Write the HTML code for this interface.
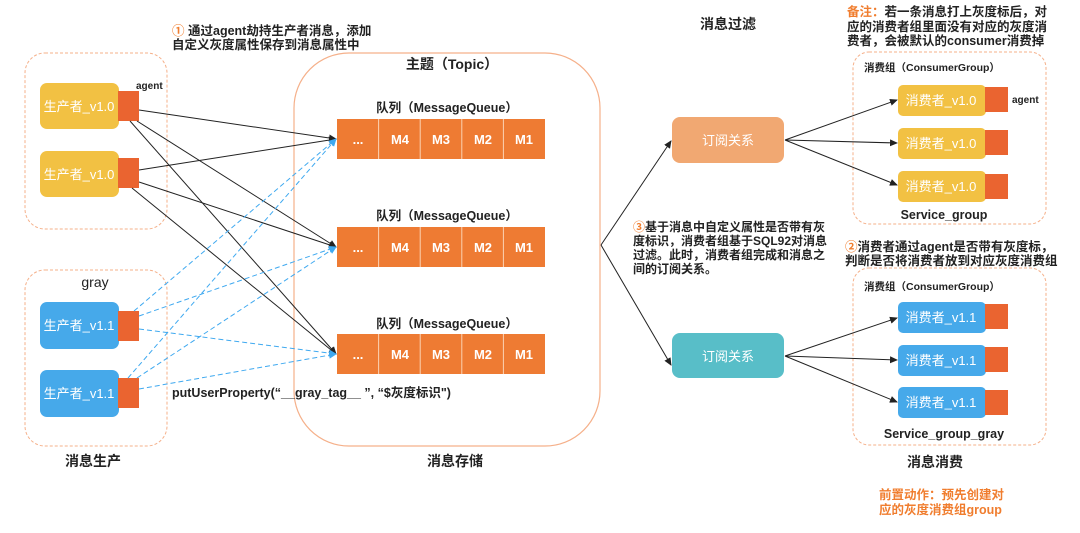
<!DOCTYPE html>
<html><head><meta charset="utf-8"><style>
html,body{margin:0;padding:0;background:#fff;}
svg{display:block;font-family:"Liberation Sans","Noto Sans CJK SC",sans-serif;}
.b{font-weight:bold;}
</style></head><body>
<svg width="1080" height="533" viewBox="0 0 1080 533" xmlns="http://www.w3.org/2000/svg">
<defs>
<marker id="ab" markerWidth="8" markerHeight="8" refX="7" refY="4" orient="auto" markerUnits="userSpaceOnUse"><path d="M0,0.5 L8,4 L0,7.5 Z" fill="#222"/></marker>
<marker id="au" markerWidth="8" markerHeight="8" refX="7" refY="4" orient="auto" markerUnits="userSpaceOnUse"><path d="M0,0.5 L8,4 L0,7.5 Z" fill="#3fa9f0"/></marker>
</defs>
<rect width="1080" height="533" fill="#fff"/>

<!-- annotation 1 -->
<text x="172" y="35" font-size="12.5" class="b" fill="#222"><tspan fill="#f07d2e">①</tspan> 通过agent劫持生产者消息，添加</text>
<text x="172" y="49" font-size="12.5" class="b" fill="#222">自定义灰度属性保存到消息属性中</text>

<!-- producer groups -->
<rect x="25" y="53" width="142" height="176" rx="20" fill="none" stroke="#f5b08a" stroke-dasharray="3,2"/>
<rect x="25" y="270" width="142" height="176" rx="20" fill="none" stroke="#f5b08a" stroke-dasharray="3,2"/>
<rect x="40" y="83" width="79" height="46" rx="7" fill="#f2c143"/>
<rect x="40" y="151" width="79" height="46" rx="7" fill="#f2c143"/>
<rect x="118" y="91" width="21" height="30" fill="#ea6430"/>
<rect x="118" y="158" width="21" height="30" fill="#ea6430"/>
<text x="79" y="111" font-size="13" fill="#fff" text-anchor="middle">生产者_v1.0</text>
<text x="79" y="179" font-size="13" fill="#fff" text-anchor="middle">生产者_v1.0</text>
<text x="136" y="89" font-size="10" class="b" fill="#222">agent</text>
<text x="95" y="287" font-size="14" fill="#222" text-anchor="middle">gray</text>
<rect x="40" y="302" width="79" height="47" rx="7" fill="#46a9ea"/>
<rect x="40" y="370" width="79" height="47" rx="7" fill="#46a9ea"/>
<rect x="118" y="311" width="21" height="30" fill="#ea6430"/>
<rect x="118" y="378" width="21" height="30" fill="#ea6430"/>
<text x="79" y="330" font-size="13" fill="#fff" text-anchor="middle">生产者_v1.1</text>
<text x="79" y="398" font-size="13" fill="#fff" text-anchor="middle">生产者_v1.1</text>
<text x="93" y="466" font-size="14" class="b" fill="#222" text-anchor="middle">消息生产</text>

<!-- topic -->
<rect x="294" y="53" width="306" height="393" rx="55" fill="none" stroke="#f5b08a" stroke-width="1.2"/>
<text x="452" y="69" font-size="14" class="b" fill="#222" text-anchor="middle">主题（Topic）</text>
<text x="455" y="466" font-size="14" class="b" fill="#222" text-anchor="middle">消息存储</text>

<g font-size="12.5" class="b" fill="#222" text-anchor="middle">
<text x="447" y="112">队列（MessageQueue）</text>
<text x="447" y="220">队列（MessageQueue）</text>
<text x="447" y="328">队列（MessageQueue）</text>
</g>
<g>
<rect x="337" y="119" width="208" height="40" fill="#ee7b33"/>
<rect x="337" y="227" width="208" height="40" fill="#ee7b33"/>
<rect x="337" y="334" width="208" height="40" fill="#ee7b33"/>
<g stroke="#fbd2b3" stroke-width="1">
<line x1="378.6" y1="119" x2="378.6" y2="159"/><line x1="420.2" y1="119" x2="420.2" y2="159"/><line x1="461.8" y1="119" x2="461.8" y2="159"/><line x1="503.4" y1="119" x2="503.4" y2="159"/>
<line x1="378.6" y1="227" x2="378.6" y2="267"/><line x1="420.2" y1="227" x2="420.2" y2="267"/><line x1="461.8" y1="227" x2="461.8" y2="267"/><line x1="503.4" y1="227" x2="503.4" y2="267"/>
<line x1="378.6" y1="334" x2="378.6" y2="374"/><line x1="420.2" y1="334" x2="420.2" y2="374"/><line x1="461.8" y1="334" x2="461.8" y2="374"/><line x1="503.4" y1="334" x2="503.4" y2="374"/>
</g>
<g font-size="13" class="b" fill="#fff" text-anchor="middle">
<text x="358" y="144">...</text><text x="400" y="144">M4</text><text x="441" y="144">M3</text><text x="483" y="144">M2</text><text x="524" y="144">M1</text>
<text x="358" y="252">...</text><text x="400" y="252">M4</text><text x="441" y="252">M3</text><text x="483" y="252">M2</text><text x="524" y="252">M1</text>
<text x="358" y="359">...</text><text x="400" y="359">M4</text><text x="441" y="359">M3</text><text x="483" y="359">M2</text><text x="524" y="359">M1</text>
</g>
</g>

<!-- producer arrows -->
<g stroke="#222" stroke-width="1" fill="none" marker-end="url(#ab)">
<line x1="139" y1="110" x2="336" y2="139"/>
<line x1="137" y1="121" x2="336" y2="247"/>
<line x1="130" y1="121" x2="336" y2="354"/>
<line x1="139" y1="170" x2="336" y2="139"/>
<line x1="139" y1="182" x2="336" y2="247"/>
<line x1="132" y1="188" x2="336" y2="354"/>
</g>
<g stroke="#3fa9f0" stroke-width="1" fill="none" stroke-dasharray="5,3" marker-end="url(#au)">
<line x1="134" y1="311" x2="336" y2="139"/>
<line x1="139" y1="316" x2="336" y2="247"/>
<line x1="139" y1="329" x2="336" y2="354"/>
<line x1="128" y1="378" x2="336" y2="139"/>
<line x1="137" y1="378" x2="336" y2="247"/>
<line x1="139" y1="389" x2="336" y2="354"/>
</g>
<text x="172" y="397" font-size="12.5" class="b" fill="#222">putUserProperty(“__gray_tag__ ”, “$灰度标识")</text>

<!-- filter -->
<text x="728" y="29" font-size="14" class="b" fill="#222" text-anchor="middle">消息过滤</text>
<g stroke="#222" stroke-width="1" fill="none" marker-end="url(#ab)">
<polyline points="601,245 671,141"/>
<polyline points="601,245 671,365"/>
</g>
<rect x="672" y="117" width="112" height="46" rx="8" fill="#f1a872"/>
<rect x="672" y="333" width="112" height="45" rx="8" fill="#58bec8"/>
<text x="728" y="145" font-size="13" fill="#fff" text-anchor="middle">订阅关系</text>
<text x="728" y="361" font-size="13" fill="#fff" text-anchor="middle">订阅关系</text>
<g font-size="12" class="b" fill="#222">
<text x="633" y="231"><tspan fill="#f07d2e">③</tspan>基于消息中自定义属性是否带有灰</text>
<text x="633" y="245">度标识，消费者组基于SQL92对消息</text>
<text x="633" y="259">过滤。此时，消费者组完成和消息之</text>
<text x="633" y="273">间的订阅关系。</text>
</g>

<!-- note top -->
<g font-size="12.5" class="b" fill="#222">
<text x="847" y="16"><tspan fill="#f07d2e">备注：</tspan>若一条消息打上灰度标后，对</text>
<text x="847" y="31">应的消费者组里面没有对应的灰度消</text>
<text x="847" y="45">费者，会被默认的consumer消费掉</text>
</g>

<!-- consumer groups -->
<rect x="853" y="52" width="193" height="172" rx="16" fill="none" stroke="#f5b08a" stroke-dasharray="3,2"/>
<rect x="853" y="268" width="193" height="177" rx="16" fill="none" stroke="#f5b08a" stroke-dasharray="3,2"/>
<text x="864" y="71" font-size="10.5" class="b" fill="#222">消费组（ConsumerGroup）</text>
<text x="864" y="290" font-size="10.5" class="b" fill="#222">消费组（ConsumerGroup）</text>
<g>
<rect x="898" y="85" width="88" height="31" rx="5" fill="#f2c143"/>
<rect x="898" y="128" width="88" height="31" rx="5" fill="#f2c143"/>
<rect x="898" y="171" width="88" height="31" rx="5" fill="#f2c143"/>
<rect x="985" y="87" width="23" height="25" fill="#ea6430"/>
<rect x="985" y="130" width="23" height="25" fill="#ea6430"/>
<rect x="985" y="174" width="23" height="25" fill="#ea6430"/>
<rect x="898" y="302" width="88" height="31" rx="5" fill="#46a9ea"/>
<rect x="898" y="345" width="88" height="31" rx="5" fill="#46a9ea"/>
<rect x="898" y="387" width="88" height="31" rx="5" fill="#46a9ea"/>
<rect x="985" y="304" width="23" height="25" fill="#ea6430"/>
<rect x="985" y="347" width="23" height="25" fill="#ea6430"/>
<rect x="985" y="390" width="23" height="25" fill="#ea6430"/>
</g>
<g font-size="13" fill="#fff" text-anchor="middle">
<text x="941" y="105">消费者_v1.0</text><text x="941" y="148">消费者_v1.0</text><text x="941" y="191">消费者_v1.0</text>
<text x="941" y="322">消费者_v1.1</text><text x="941" y="365">消费者_v1.1</text><text x="941" y="407">消费者_v1.1</text>
</g>
<text x="1012" y="103" font-size="10" class="b" fill="#222">agent</text>
<text x="944" y="219" font-size="12.5" class="b" fill="#222" text-anchor="middle">Service_group</text>
<text x="944" y="438" font-size="12.5" class="b" fill="#222" text-anchor="middle">Service_group_gray</text>
<g stroke="#222" stroke-width="1" fill="none" marker-end="url(#ab)">
<line x1="785" y1="140" x2="897" y2="100"/>
<line x1="785" y1="140" x2="897" y2="143"/>
<line x1="785" y1="140" x2="897" y2="185"/>
<line x1="785" y1="356" x2="897" y2="318"/>
<line x1="785" y1="356" x2="897" y2="360"/>
<line x1="785" y1="356" x2="897" y2="402"/>
</g>
<g font-size="12.5" class="b" fill="#222">
<text x="845" y="251"><tspan fill="#f07d2e">②</tspan>消费者通过agent是否带有灰度标，</text>
<text x="845" y="265">判断是否将消费者放到对应灰度消费组</text>
</g>
<text x="935" y="467" font-size="14" class="b" fill="#222" text-anchor="middle">消息消费</text>
<g font-size="12.5" class="b" fill="#f07d2e">
<text x="879" y="499">前置动作：预先创建对</text>
<text x="879" y="514">应的灰度消费组group</text>
</g>
</svg>
</body></html>
